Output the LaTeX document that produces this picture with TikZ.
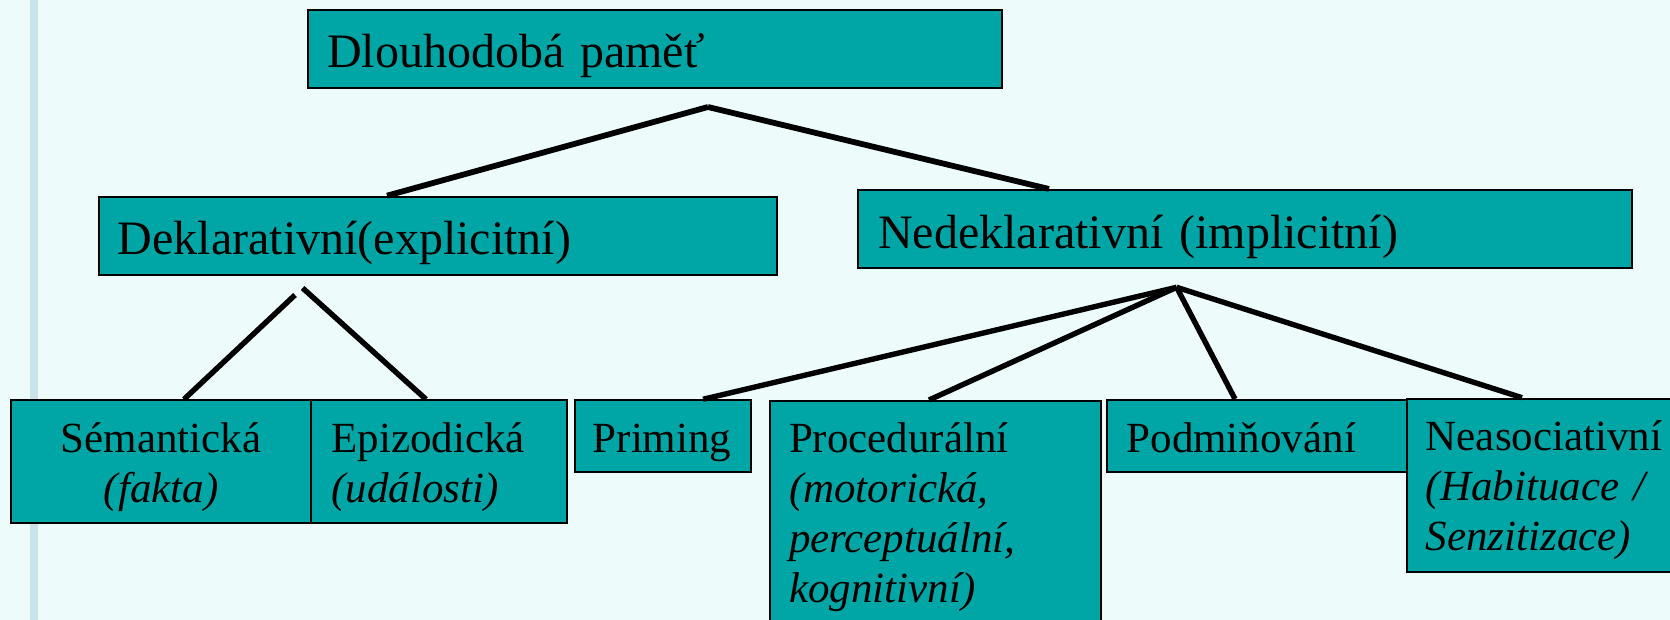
\documentclass[tikz,border=0pt]{standalone}
\usepackage{fontspec}
\setmainfont{Liberation Serif}
\usepackage{xcolor}
\usepackage{tikz}

\definecolor{boxteal}{RGB}{0,166,166}
\definecolor{slidebg}{RGB}{238,251,251}
\definecolor{slidebar}{RGB}{200,228,233}

\begin{document}
\begin{tikzpicture}[x=0.5pt,y=0.5pt,yscale=-1,xscale=1,
    box/.style={draw=black, line width=1pt, fill=boxteal, anchor=north west, inner ysep=0pt},
    big/.style={font=\fontsize{24}{28}\selectfont},
    small/.style={font=\fontsize{21.5}{25}\selectfont},
    conn/.style={line width=2.7pt}]
        \useasboundingbox (0,0) rectangle (1670,620);
        \clip (0,0) rectangle (1670,620);

        %Shape: Background
        \fill[slidebg] (0,0) rectangle (1670,620);
        \fill[slidebar] (30,0) rectangle (38,620);

        %Shape: Box - top level
        \node[box, big, align=left, inner xsep=9.5pt, text width=327.75pt, text height=29pt, text depth=10pt] (dlouh) at (307,8.7) {Dlouhodobá paměť};
        %Shape: Box - second level
        \node[box, big, align=left, inner xsep=9.5pt, text width=319.9pt, text height=28.8pt, text depth=10.2pt] (dekl) at (97.8,195.7) {Deklarativní(explicitní)};
        \node[box, big, align=left, inner xsep=10.25pt, text width=366.8pt, text height=29.15pt, text depth=9.7pt] (nedekl) at (856.8,189) {Nedeklarativní (implicitní)};

        %Shape: Box - bottom level
        \node[box, small, align=center, inner xsep=5pt, text width=139.9pt, text height=26.2pt, text depth=35pt] (sem) at (10.2,399.3) {Sémantická\\\textit{(fakta)}};
        \node[box, small, align=left, inner xsep=10.3pt, text width=107.4pt, text height=26.2pt, text depth=35.15pt] (epi) at (310,399.3) {Epizodická\\\textit{(události)}};
        \node[box, small, align=left, inner xsep=8.9pt, text width=70.2pt, text height=26.2pt, text depth=9.5pt] (pri) at (574,399.3) {Priming};
        \node[box, small, align=left, inner xsep=9.3pt, text width=146.55pt, text height=25.85pt, text depth=86.65pt] (proc) at (769.4,400) {Procedurální\\\textit{(motorická,}\\\textit{perceptuální,}\\\textit{kognitivní)}};
        \node[box, small, align=left, inner xsep=10pt, text width=137pt, text height=26.35pt, text depth=9.5pt] (pod) at (1105.6,399) {Podmiňování};
        \node[box, small, align=left, inner xsep=9.4pt, text width=126pt, text height=25.8pt, text depth=60.7pt] (neas) at (1406,397.7) {Neasociativní\\\textit{(Habituace /}\\\textit{Senzitizace)}};

        % Fork points
        \coordinate (topfork) at (708,107);
        \coordinate (deklforkl) at (295,295);
        \coordinate (deklforkr) at (302.6,288);
        \coordinate (nedeklfork) at (1176.6,287.3);

        %Shape: Lines
        \draw[conn, line width=2.9pt] (topfork) -- (dekl.north -| 387,0);
        \draw[conn, line width=2.9pt] (topfork) -- (nedekl.north -| 1049,0);
        \draw[conn] (deklforkl) -- (sem.north -| 184,0);
        \draw[conn] (deklforkr) -- (epi.north -| 426,0);
        \draw[conn] (nedeklfork) -- (pri.north -| 703,0);
        \draw[conn] (nedeklfork) -- (proc.north -| 929,0);
        \draw[conn] (nedeklfork) -- (pod.north -| 1235,0);
        \draw[conn] (nedeklfork) -- (neas.north -| 1522,0);
    \end{tikzpicture}
\end{document}
